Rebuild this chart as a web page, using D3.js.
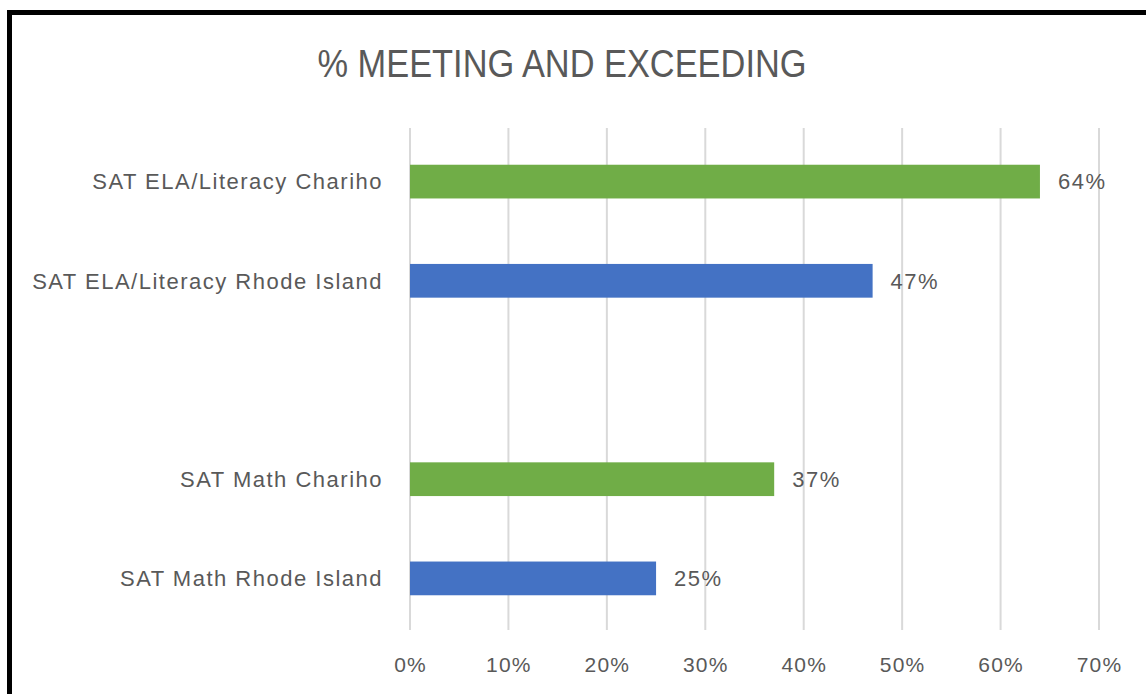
<!DOCTYPE html>
<html>
<head>
<meta charset="utf-8">
<script src="https://cdn.jsdelivr.net/npm/d3@7"></script>
<style>
  html, body { margin: 0; padding: 0; background: #fff; }
  svg { display: block; }
</style>
</head>
<body>
<svg id="chart" width="1146" height="694"></svg>
<script>
const categories = ["SAT ELA/Literacy Chariho", "SAT ELA/Literacy Rhode Island", "", "SAT Math Chariho", "SAT Math Rhode Island"];
const values = [0.64, 0.47, null, 0.37, 0.25];
const barColors = ["#70AD47", "#4472C4", null, "#70AD47", "#4472C4"];
const tickValues = [0, 0.1, 0.2, 0.3, 0.4, 0.5, 0.6, 0.7];
const title = "% MEETING AND EXCEEDING";

const svg = d3.select("#chart");
const font = "'Liberation Sans', Arial, sans-serif";
const textColor = "#595959";

// outer border
svg.append("rect")
  .attr("x", 9.5).attr("y", 12.5)
  .attr("width", 1300).attr("height", 1000)
  .attr("fill", "#fff").attr("stroke", "#000").attr("stroke-width", 5);

const x = d3.scaleLinear().domain([0, 0.7]).range([410, 1099]);
const y = d3.scaleBand().domain(categories).range([132, 628]).paddingInner(0.66).paddingOuter(0.33);

// gridlines
svg.append("g").selectAll("line").data(tickValues).join("line")
  .attr("x1", d => x(d)).attr("x2", d => x(d))
  .attr("y1", 128).attr("y2", 630)
  .attr("stroke", "#d9d9d9").attr("stroke-width", 2);

// title
svg.append("text")
  .attr("x", 562).attr("y", 77)
  .attr("text-anchor", "middle")
  .attr("font-family", font).attr("font-size", 39)
  .attr("textLength", 489).attr("lengthAdjust", "spacingAndGlyphs")
  .attr("fill", textColor)
  .text(title);

const data = categories.map((c, i) => ({ c, v: values[i], col: barColors[i] })).filter(d => d.v != null);

// bars
svg.append("g").selectAll("rect").data(data).join("rect")
  .attr("x", x(0))
  .attr("y", d => y(d.c))
  .attr("width", d => x(d.v) - x(0))
  .attr("height", y.bandwidth())
  .attr("fill", d => d.col);

// value labels
svg.append("g").selectAll("text").data(data).join("text")
  .attr("x", d => x(d.v) + 18)
  .attr("y", d => y(d.c) + y.bandwidth() / 2)
  .attr("dy", "0.35em")
  .attr("font-family", font).attr("font-size", 22)
  .attr("letter-spacing", 1.5)
  .attr("fill", textColor)
  .text(d => d3.format(".0%")(d.v));

// category labels
svg.append("g").selectAll("text").data(data).join("text")
  .attr("x", 383)
  .attr("y", d => y(d.c) + y.bandwidth() / 2)
  .attr("dy", "0.35em")
  .attr("text-anchor", "end")
  .attr("font-family", font).attr("font-size", 22)
  .attr("letter-spacing", 1.5)
  .attr("fill", textColor)
  .text(d => d.c);

// x axis labels
const axis = d3.axisBottom(x).tickValues(tickValues).tickFormat(d3.format(".0%")).tickSize(0).tickPadding(0);
const ax = svg.append("g").attr("transform", "translate(0,657)").call(axis);
ax.select(".domain").remove();
ax.selectAll("text")
  .attr("font-family", font).attr("font-size", 21)
  .attr("letter-spacing", 1.2)
  .attr("fill", textColor).attr("dy", "0.71em");
</script>
</body>
</html>
